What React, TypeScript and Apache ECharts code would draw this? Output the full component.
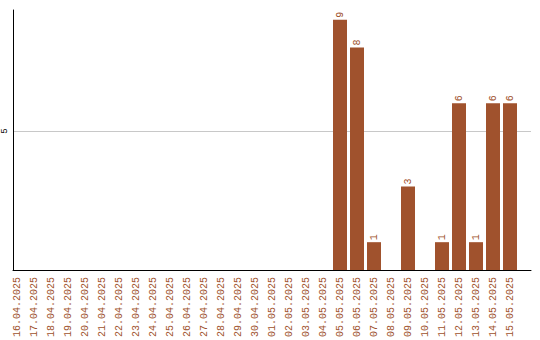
import React, { useEffect, useRef } from "react";
import * as echarts from "echarts";

const dates: string[] = [
  "16.04.2025", "17.04.2025", "18.04.2025", "19.04.2025", "20.04.2025",
  "21.04.2025", "22.04.2025", "23.04.2025", "24.04.2025", "25.04.2025",
  "26.04.2025", "27.04.2025", "28.04.2025", "29.04.2025", "30.04.2025",
  "01.05.2025", "02.05.2025", "03.05.2025", "04.05.2025", "05.05.2025",
  "06.05.2025", "07.05.2025", "08.05.2025", "09.05.2025", "10.05.2025",
  "11.05.2025", "12.05.2025", "13.05.2025", "14.05.2025", "15.05.2025",
];

const counts: number[] = [
  0, 0, 0, 0, 0, 0, 0, 0, 0, 0,
  0, 0, 0, 0, 0, 0, 0, 0, 0, 9,
  8, 1, 0, 3, 0, 1, 6, 1, 6, 6,
];

const yMax = 9.35;
const yStep = 5;

const BAR = "#a0522d";
const FONT = "Liberation Mono";

export default function App() {
  const ref = useRef<HTMLDivElement>(null);

  useEffect(() => {
    document.body.style.margin = "0";
    if (!ref.current) return;
    const chart = echarts.init(ref.current, undefined, { renderer: "svg" });
    chart.setOption({
      animation: false,
      grid: [
        { left: 11, right: 9, top: 10, bottom: 70 },
        { left: 8.5, right: 21.5, top: 10, bottom: 70 },
      ],
      xAxis: [
        {
          type: "value",
          gridIndex: 0,
          min: 0,
          max: 1,
          axisLine: { show: true, lineStyle: { color: "#000", width: 1 } },
          axisTick: { show: false },
          axisLabel: { show: false },
          splitLine: { show: false },
        },
        {
          type: "category",
          gridIndex: 1,
          data: dates,
          axisLine: { show: false },
          axisTick: { show: false },
          axisLabel: {
            interval: 0,
            rotate: 90,
            margin: 7,
            color: BAR,
            fontFamily: FONT,
            fontSize: 10,
          },
        },
      ],
      yAxis: [
        {
          type: "value",
          gridIndex: 0,
          min: 0,
          max: yMax,
          interval: yStep,
          axisLine: { show: true, lineStyle: { color: "#000", width: 1 } },
          axisTick: { show: false },
          axisLabel: {
            showMinLabel: false,
            showMaxLabel: false,
            rotate: 90,
            margin: 4,
            color: "#000",
            fontFamily: FONT,
            fontSize: 9,
          },
          splitLine: {
            show: true,
            showMinLine: false,
            showMaxLine: false,
            lineStyle: { color: "#c8c8c8", width: 1 },
          },
        },
        {
          type: "value",
          gridIndex: 1,
          min: 0,
          max: yMax,
          show: false,
          splitLine: { show: false },
        },
      ],
      series: [
        {
          type: "bar",
          xAxisIndex: 1,
          yAxisIndex: 1,
          data: counts,
          barWidth: 14,
          itemStyle: { color: BAR },
          label: {
            show: true,
            position: "top",
            rotate: 90,
            align: "left",
            verticalAlign: "middle",
            distance: 2,
            color: BAR,
            fontFamily: FONT,
            fontSize: 10,
            formatter: (p: any) => (p.value ? String(p.value) : ""),
          },
        },
      ],
    });
    return () => chart.dispose();
  }, []);

  return <div ref={ref} style={{ width: 540, height: 340 }} />;
}
